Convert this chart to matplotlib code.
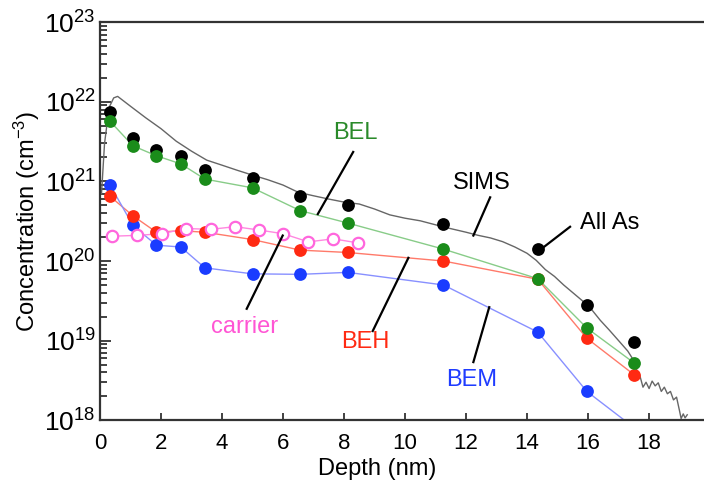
import numpy as np
import matplotlib
matplotlib.use('Agg')
import matplotlib.pyplot as plt
from matplotlib.ticker import LogLocator, NullFormatter, MultipleLocator

plt.rcParams['font.family'] = ['Liberation Sans', 'DejaVu Sans']
plt.rcParams['mathtext.fontset'] = 'custom'
plt.rcParams['mathtext.rm'] = 'Liberation Sans'
plt.rcParams['mathtext.it'] = 'Liberation Sans'
plt.rcParams['mathtext.default'] = 'regular'

# As profiles vs depth (cm^-3)
depth = [0.33, 1.08, 1.85, 2.65, 3.44, 5.0, 6.56, 8.12, 11.26, 14.35, 15.96, 17.52]
all_as = [7.4e21, 3.5e21, 2.5e21, 2.1e21, 1.4e21, 1.1e21, 6.5e20, 5.1e20, 2.95e20, 1.4e20, 2.8e19, 9.5e18]
bel = [5.7e21, 2.8e21, 2.1e21, 1.66e21, 1.07e21, 8.3e20, 4.3e20, 3.0e20, 1.41e20, 6.0e19, 1.44e19, 5.2e18]
beh = [6.5e20, 3.7e20, 2.3e20, 2.4e20, 2.3e20, 1.86e20, 1.37e20, 1.28e20, 1.0e20, 5.9e19, 1.07e19, 3.7e18]
bem = [9.0e20, 2.8e20, 1.58e20, 1.5e20, 8.2e19, 6.9e19, 6.8e19, 7.2e19, 5.0e19, 1.28e19, 2.3e18, 8e17]

carrier_depth = [0.41, 1.22, 2.02, 2.82, 3.63, 4.43, 5.22, 6.01, 6.83, 7.65, 8.45]
carrier = [2.05e20, 2.1e20, 2.2e20, 2.56e20, 2.5e20, 2.7e20, 2.45e20, 2.2e20, 1.74e20, 1.9e20, 1.69e20]

sims_depth = [0.05, 0.15, 0.3, 0.45, 0.58, 1.0, 1.5, 2.0, 2.5, 3.0, 3.5, 4.0, 4.5, 5.0,
              5.5, 6.0, 6.5, 7.0, 7.5, 8.0, 8.5, 9.0, 9.5, 10.0, 10.5, 11.0, 11.5, 12.0,
              12.4, 12.8, 13.2, 13.6, 14.0, 14.3, 14.6, 14.9, 15.2, 15.5, 15.8, 16.1,
              16.4, 16.7, 17.0, 17.3, 17.5, 17.6, 17.7, 17.8, 17.9, 18.0, 18.1, 18.2,
              18.3, 18.4, 18.5, 18.6, 18.7, 18.8, 18.9, 19.0, 19.05, 19.12, 19.18, 19.25]
sims = [7.0e20, 3.0e21, 8.5e21, 1.12e22, 1.17e22, 8.8e21, 6.3e21, 4.6e21, 3.2e21, 2.4e21,
        1.85e21, 1.6e21, 1.38e21, 1.2e21, 1.05e21, 9.0e20, 7.3e20, 6.6e20, 6.0e20, 5.5e20,
        5.2e20, 4.5e20, 3.8e20, 3.45e20, 3.2e20, 2.85e20, 2.55e20, 2.3e20, 2.1e20, 1.95e20,
        1.75e20, 1.5e20, 1.25e20, 1.02e20, 7.8e19, 6.4e19, 5.0e19, 4.0e19, 3.2e19, 2.5e19,
        1.8e19, 1.35e19, 1.0e19, 7.4e18, 5.6e18, 4.2e18, 3.6e18, 2.6e18, 3.0e18, 2.5e18,
        3.1e18, 2.7e18, 2.95e18, 2.3e18, 2.6e18, 2.15e18, 2.3e18, 1.8e18, 1.95e18, 1.3e18,
        1.05e18, 1.2e18, 1.07e18, 1.17e18]

fig = plt.figure(figsize=(7.04, 4.83), dpi=100)
ax = fig.add_axes([0.142, 0.130, 0.858, 0.824])

ax.plot(sims_depth, sims, '-', color='#666666', lw=1.0, zorder=2)

ax.plot(depth, bel, '-', color='#88cc88', lw=1.0, zorder=2)
ax.plot(depth, beh, '-', color='#ff7a6a', lw=1.0, zorder=2)
ax.plot(depth, bem, '-', color='#8890ff', lw=1.0, zorder=2)
ax.plot(carrier_depth, carrier, '-', color='#ff88e0', lw=1.0, zorder=2)

ms = 9.2
ax.plot(depth, bem, 'o', color='#1a3cff', ms=ms, mec='none', zorder=3)
ax.plot(depth, beh, 'o', color='#ff2a12', ms=ms, mec='none', zorder=3)
ax.plot(depth, all_as, 'o', color='black', ms=ms, mec='none', zorder=3)
ax.plot(depth, bel, 'o', color='#1a8c1a', ms=ms, mec='none', zorder=4)
ax.plot(carrier_depth, carrier, 'o', mfc='white', mec='#ff66dd', mew=1.6,
        ms=ms - 1, zorder=5)

ax.set_yscale('log')
ax.set_ylim(1e18, 1e23)
ax.set_xlim(0, 19.8)

ax.xaxis.set_major_locator(MultipleLocator(2))
ax.yaxis.set_major_locator(LogLocator(base=10, numticks=10))
ax.yaxis.set_minor_locator(LogLocator(base=10, subs=np.arange(2, 10), numticks=20))
ax.yaxis.set_minor_formatter(NullFormatter())

ax.tick_params(axis='both', which='both', direction='in', width=1.3, color='#333333')
ax.tick_params(axis='y', which='major', length=8, pad=3, labelsize=19)
ax.tick_params(axis='y', which='minor', length=5)
ax.tick_params(axis='x', which='major', length=5, pad=9, top=False, labelsize=16)
ax.tick_params(axis='x', which='minor', bottom=False)

for side in ['left', 'bottom', 'top']:
    ax.spines[side].set_linewidth(1.6)
    ax.spines[side].set_color('#333333')
ax.spines['right'].set_visible(False)

ax.set_xlabel('Depth (nm)', fontsize=17)
ax.xaxis.set_label_coords(0.459, -0.095)
ax.set_ylabel('Concentration (cm$^{-3}$)', fontsize=17, labelpad=2)

# curve labels with leader lines
labels = [
    ('BEL', 8.36, 4.1e21, '#2a8a2a', (8.30, 10**21.37), (7.14, 10**20.59)),
    ('SIMS', 12.52, 9.6e20, 'black', (12.79, 10**20.80), (12.24, 10**20.32)),
    ('All As', 16.72, 3.0e20, 'black', (15.41, 10**20.43), (14.53, 10**20.17)),
    ('BEM', 12.2, 10**18.50, '#1f3cff', (12.24, 10**18.73), (12.76, 10**19.42)),
    ('BEH', 8.69, 10**18.98, '#ff2a12', (8.94, 10**19.12), (10.11, 10**20.04)),
    ('carrier', 4.75, 10**19.17, '#ff55d4', (4.81, 10**19.40), (5.99, 10**20.32)),
]
for text, tx, ty, col, p0, p1 in labels:
    ax.text(tx, ty, text, color=col, fontsize=17, ha='center', va='center')
    ax.plot([p0[0], p1[0]], [p0[1], p1[1]], '-', color='black', lw=1.6, zorder=6)

fig.savefig('out.png', dpi=100)
